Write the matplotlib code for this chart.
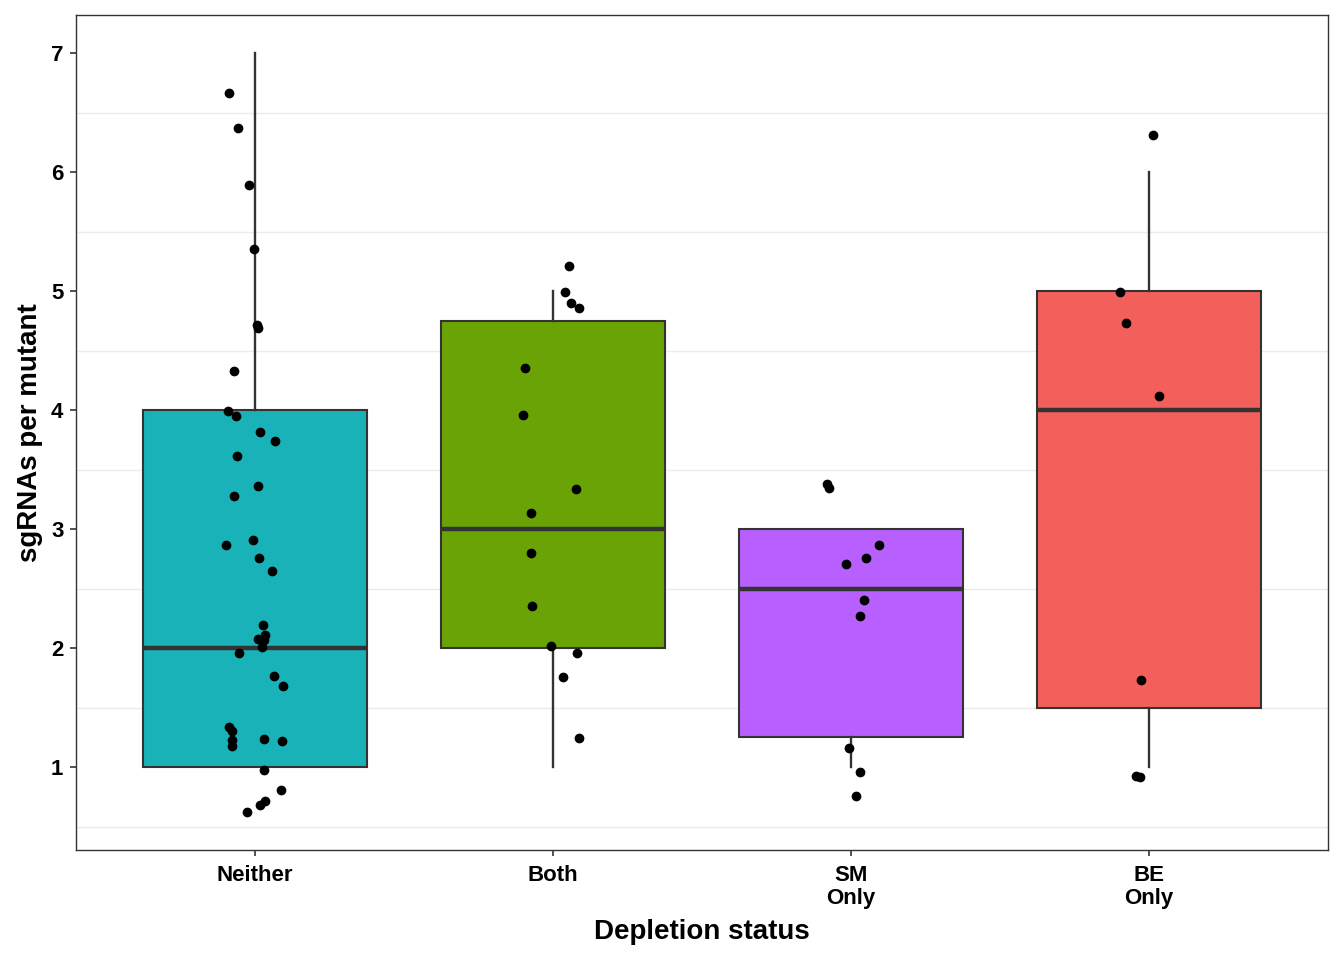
import matplotlib
matplotlib.use("Agg")
import matplotlib.pyplot as plt

plt.rcParams["font.family"] = ["Liberation Sans", "DejaVu Sans"]
plt.rcParams["font.weight"] = "bold"

categorias = ["Neither", "Both", "SM\nOnly", "BE\nOnly"]
cores = ["#19B2B8", "#6AA305", "#B75FFF", "#F3605C"]

# box stats (ggplot style, whiskers without caps)
bigode_inf = [1, 1, 1, 1]
q1 = [1, 2, 1.25, 1.5]
mediana = [2, 3, 2.5, 4]
q3 = [4, 4.75, 3, 5]
bigode_sup = [7, 5, 3, 6]

# jittered points: offset from category center and value
neither_dx = [-0.088, -0.056, -0.018, -0.004, 0.008, 0.011, -0.071, -0.091, -0.064, 0.018,
              0.068, -0.058, 0.011, -0.070, -0.006, -0.096, 0.013, 0.059, 0.029, 0.033,
              0.012, 0.031, 0.024, -0.053, 0.064, 0.095, -0.086, -0.078, -0.077, -0.076,
              0.031, 0.090, 0.030, 0.089, 0.033, 0.016, -0.026]
neither_y = [6.666, 6.370, 5.891, 5.359, 4.714, 4.695, 4.330, 3.994, 3.955, 3.815,
             3.739, 3.613, 3.359, 3.280, 2.905, 2.866, 2.759, 2.645, 2.191, 2.107,
             2.073, 2.067, 2.008, 1.961, 1.767, 1.683, 1.334, 1.305, 1.227, 1.176,
             1.233, 1.221, 0.972, 0.809, 0.714, 0.683, 0.619]
both_dx = [0.054, 0.040, 0.060, 0.089, -0.094, -0.099, 0.076, -0.073, -0.074, -0.071,
           -0.005, 0.082, 0.035, 0.089]
both_y = [5.216, 4.994, 4.902, 4.860, 4.359, 3.961, 3.336, 3.137, 2.798, 2.353,
          2.017, 1.955, 1.759, 1.246]
sm_dx = [-0.079, -0.075, 0.095, 0.050, -0.016, 0.043, 0.031, -0.006, 0.030, 0.017]
sm_y = [3.376, 3.347, 2.863, 2.754, 2.708, 2.401, 2.266, 1.157, 0.955, 0.756]
be_dx = [0.012, -0.098, -0.078, 0.034, -0.027, -0.044, -0.030]
be_y = [6.311, 4.994, 4.737, 4.124, 1.729, 0.924, 0.916]

pontos_dx = [neither_dx, both_dx, sm_dx, be_dx]
pontos_y = [neither_y, both_y, sm_y, be_y]

fig = plt.figure(figsize=(13.44, 9.6), dpi=100)
ax = fig.add_axes([0.0565, 0.1146, 0.9315, 0.8694])

stats = []
for i in range(4):
    stats.append({"whislo": bigode_inf[i], "q1": q1[i], "med": mediana[i],
                  "q3": q3[i], "whishi": bigode_sup[i]})

posicoes = [1, 2, 3, 4]
caixas = ax.bxp(stats, positions=posicoes, widths=0.75, patch_artist=True,
                showfliers=False, showcaps=False,
                boxprops=dict(edgecolor="#333333", linewidth=1.5),
                whiskerprops=dict(color="#333333", linewidth=1.7),
                medianprops=dict(color="#333333", linewidth=3.2, solid_capstyle="butt"),
                zorder=2)
for patch, cor in zip(caixas["boxes"], cores):
    patch.set_facecolor(cor)

for i in range(4):
    xs = [posicoes[i] + d for d in pontos_dx[i]]
    ax.plot(xs, pontos_y[i], "o", color="black", markersize=6, zorder=3)

ax.set_xlim(0.4, 4.6)
ax.set_ylim(0.303, 7.32)
ax.set_xticks(posicoes)
ax.set_xticklabels(categorias, linespacing=1.1)
ax.set_yticks([1, 2, 3, 4, 5, 6, 7])
ax.set_yticks([0.5, 1.5, 2.5, 3.5, 4.5, 5.5, 6.5], minor=True)
ax.grid(True, which="minor", axis="y", color="#EBEBEB", linewidth=1.0, zorder=0)
ax.set_axisbelow(True)
ax.tick_params(axis="both", which="major", length=4, width=1.2, color="#333333",
               labelsize=16, labelcolor="black")
ax.tick_params(axis="x", which="major", pad=7)
ax.tick_params(axis="y", which="major", pad=5)
ax.tick_params(axis="both", which="minor", length=0)
for s in ax.spines.values():
    s.set_color("#333333")
    s.set_linewidth(1.0)

ax.set_xlabel("Depletion status", fontsize=20, fontweight="bold", labelpad=7)
ax.set_ylabel("sgRNAs per mutant", fontsize=20, fontweight="bold", labelpad=6)

fig.savefig("out.png", dpi=100)
